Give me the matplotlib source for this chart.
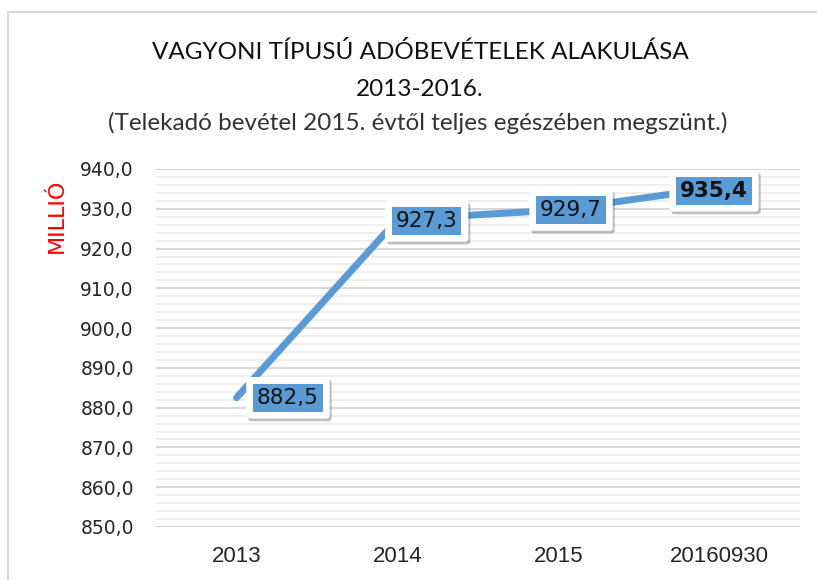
import matplotlib
matplotlib.use("Agg")
import matplotlib.pyplot as plt
import matplotlib.patheffects as pe
from matplotlib.patches import Rectangle
from matplotlib.ticker import MultipleLocator, FuncFormatter

# adatok
years = ["2013", "2014", "2015", "20160930"]
values = [882.5, 927.3, 929.7, 935.4]
value_labels = ["882,5", "927,3", "929,7", "935,4"]

title1 = "VAGYONI TÍPUSÚ ADÓBEVÉTELEK ALAKULÁSA"
title2 = "2013-2016."
subtitle = "(Telekadó bevétel 2015. évtől teljes egészében megszünt.)"

blue = "#5b9bd5"

fig = plt.figure(figsize=(8.17, 5.80), dpi=100)
ax = fig.add_axes([156/817, 1 - 527/580, 644/817, 358/580])

x = list(range(len(years)))
ax.plot(x, values, color=blue, lw=5, solid_capstyle="round", solid_joinstyle="round", zorder=3)

ax.set_xlim(-0.5, 3.5)
ax.set_ylim(850, 940)
ax.yaxis.set_major_locator(MultipleLocator(10))
ax.yaxis.set_minor_locator(MultipleLocator(2))
ax.yaxis.set_major_formatter(FuncFormatter(lambda v, p: f"{v:.1f}".replace(".", ",")))
ax.grid(axis="y", which="major", color="#d9d9d9", lw=1.5)
ax.grid(axis="y", which="minor", color="#eeeeee", lw=1.5)
ax.set_axisbelow(True)
ax.set_xticks(x)
ax.set_xticklabels(years, family="Liberation Sans", fontsize=16, color="#262626")
ax.tick_params(axis="x", length=0, pad=14)
ax.tick_params(axis="y", which="both", length=0, pad=16, labelsize=13.5, labelcolor="#262626")
for s in ax.spines.values():
    s.set_visible(False)

# data labels: white box with shadow, blue box inside
offsets = [(37, 0), (21, -1), (9, 0), (-4, -2.5)]
for i, (v, lab) in enumerate(zip(values, value_labels)):
    w = "bold" if i == len(values) - 1 else "normal"
    outer = ax.annotate(lab, (i, v), xytext=offsets[i], textcoords="offset points",
                        ha="center", va="center", fontsize=15.5, color="none", weight=w,
                        bbox=dict(boxstyle="round,pad=0.5,rounding_size=0.15", fc="white", ec="none"),
                        zorder=5)
    outer.get_bbox_patch().set_path_effects([pe.SimplePatchShadow(offset=(1.5, -2), alpha=0.35),
                                             pe.Normal()])
    ax.annotate(lab, (i, v), xytext=offsets[i], textcoords="offset points",
                ha="center", va="center", fontsize=15.5, color="#111111", weight=w,
                bbox=dict(boxstyle="square,pad=0.18", fc=blue, ec="none"), zorder=6)

fig.text(420/817, 1 - 52/580, title1, ha="center", va="center", family="Lato", fontsize=17.5, color="#111111")
fig.text(420/817, 1 - 90/580, title2, ha="center", va="center", family="Lato", fontsize=17.5, color="#111111")
fig.text(418/817, 1 - 123/580, subtitle, ha="center", va="center", family="Lato", fontsize=17.5, color="#333333")
fig.text(57/817, 1 - 216/580, "MILLIÓ", ha="center", va="center", rotation=90, fontsize=16, color="red")

# chart border
fig.patches.append(Rectangle((8/817, -0.05), 1.0, 1 - 12/580 + 0.05, transform=fig.transFigure,
                             fill=False, ec="#d9d9d9", lw=1.5))

fig.savefig("out.png", dpi=100)
